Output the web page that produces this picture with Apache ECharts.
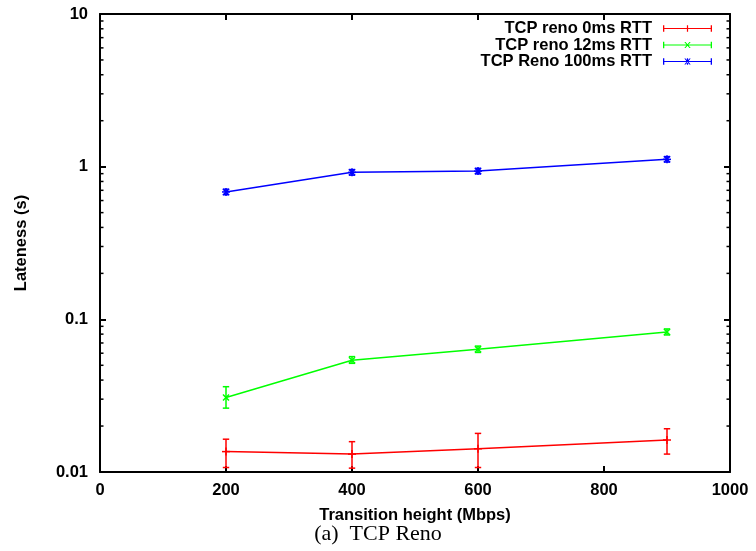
<!DOCTYPE html>
<html>
<head>
<meta charset="utf-8">
<script src="https://cdn.jsdelivr.net/npm/echarts@6/dist/echarts.min.js"></script>
<style>
html,body{margin:0;padding:0;background:#fff;}
#chart{width:756px;height:551px;}
</style>
</head>
<body>
<div id="chart"></div>
<script>
// ---- data ----
const xValues = [200, 400, 600, 900];
const seriesNames = ['TCP reno 0ms RTT', 'TCP reno 12ms RTT', 'TCP Reno 100ms RTT'];
const reno0 = [0.0136, 0.0131, 0.0142, 0.0162];
const reno0Low = [0.0107, 0.0106, 0.0107, 0.0131];
const reno0High = [0.0164, 0.0158, 0.0179, 0.0192];
const reno12 = [0.0308, 0.054, 0.0637, 0.0826];
const reno12Low = [0.0262, 0.0515, 0.0607, 0.0790];
const reno12High = [0.0362, 0.0570, 0.0668, 0.0865];
const reno100 = [0.683, 0.918, 0.935, 1.117];
const reno100Low = [0.655, 0.880, 0.897, 1.072];
const reno100High = [0.712, 0.957, 0.975, 1.164];
const xTicks = [0, 200, 400, 600, 800, 1000];
const yTickLabels = ['0.01', '0.1', '1', '10'];
const yMinorTicks = [0.02,0.03,0.04,0.05,0.06,0.07,0.08,0.09,0.2,0.3,0.4,0.5,0.6,0.7,0.8,0.9,2,3,4,5,6,7,8,9];
const colors = ['#ff0000', '#00ff00', '#0000ff'];
const markers = ['plus', 'cross', 'star'];
const captionText = '(a)  TCP Reno';

const FONT = '"Liberation Sans", Arial, Helvetica, sans-serif';
const FS = 16.5;

function pts(ys) { return xValues.map((x, i) => [x, ys[i]]); }
function errPts(ys, lo, hi) { return xValues.map((x, i) => [x, ys[i], lo[i], hi[i]]); }

function markerShapes(type, p, c) {
  const st = {stroke: c, lineWidth: 1.5};
  const L = (x1, y1, x2, y2) => ({type: 'line', shape: {x1, y1, x2, y2}, style: st});
  const out = [];
  if (type === 'plus' || type === 'star') {
    out.push(L(p[0] - 4, p[1], p[0] + 4, p[1]));
    out.push(L(p[0], p[1] - 4, p[0], p[1] + 4));
  }
  if (type === 'cross' || type === 'star') {
    out.push(L(p[0] - 3, p[1] - 3, p[0] + 3, p[1] + 3));
    out.push(L(p[0] - 3, p[1] + 3, p[0] + 3, p[1] - 3));
  }
  return out;
}

function errRenderer(marker) {
  return function (params, api) {
    const x = api.value(0), y = api.value(1), lo = api.value(2), hi = api.value(3);
    const p = api.coord([x, y]);
    const pl = api.coord([x, lo]);
    const ph = api.coord([x, hi]);
    const c = api.visual('color');
    const st = {stroke: c, lineWidth: 1.5};
    const children = [
      {type: 'line', shape: {x1: pl[0], y1: pl[1], x2: ph[0], y2: ph[1]}, style: st},
      {type: 'line', shape: {x1: pl[0] - 3.2, y1: pl[1], x2: pl[0] + 3.2, y2: pl[1]}, style: st},
      {type: 'line', shape: {x1: ph[0] - 3.2, y1: ph[1], x2: ph[0] + 3.2, y2: ph[1]}, style: st}
    ].concat(markerShapes(marker, p, c));
    return {type: 'group', children};
  };
}

function minorTickRenderer(params, api) {
  const v = api.value(1);
  const pl = api.coord([xTicks[0], v]);
  const pr = api.coord([xTicks[xTicks.length - 1], v]);
  const st = {stroke: '#000', lineWidth: 1.5};
  return {type: 'group', children: [
    {type: 'line', shape: {x1: pl[0], y1: pl[1], x2: pl[0] + 3.5, y2: pl[1]}, style: st},
    {type: 'line', shape: {x1: pr[0] - 3.5, y1: pr[1], x2: pr[0], y2: pr[1]}, style: st}
  ]};
}

// legend icons: horizontal line with end caps and marker in the middle (49 x 6.4 box)
const iconBase = 'M0,2.6 L49,2.6 L49,3.8 L0,3.8 Z M0,0 L1.3,0 L1.3,6.4 L0,6.4 Z M47.7,0 L49,0 L49,6.4 L47.7,6.4 Z ';
const iconPlus = 'M23.9,0 L25.1,0 L25.1,6.4 L23.9,6.4 Z ';
const iconCross = 'M21.3,0.2 L22.6,0.2 L27.7,6.2 L26.4,6.2 Z M27.7,0.2 L26.4,0.2 L21.3,6.2 L22.6,6.2 Z ';
const icons = ['path://' + iconBase + iconPlus, 'path://' + iconBase + iconCross, 'path://' + iconBase + iconPlus + iconCross];

const legendTops = [20, 36.5, 53];
const legends = seriesNames.map((n, i) => ({
  data: [{name: n, icon: icons[i]}],
  orient: 'vertical',
  align: 'right',
  right: 44,
  top: legendTops[i],
  padding: 0,
  itemWidth: 49,
  itemHeight: 6.4,
  selectedMode: false,
  itemStyle: {borderWidth: 0},
  textStyle: {fontFamily: FONT, fontWeight: 'bold', fontSize: FS, color: '#000', padding: [0, 6, 0, 0]}
}));

const lineData = [reno0, reno12, reno100];
const errData = [errPts(reno0, reno0Low, reno0High), errPts(reno12, reno12Low, reno12High), errPts(reno100, reno100Low, reno100High)];

const series = [];
seriesNames.forEach((n, i) => {
  series.push({
    name: n, type: 'line', data: pts(lineData[i]), showSymbol: false, symbol: 'none',
    color: colors[i], lineStyle: {color: colors[i], width: 1.5}, z: 3, animation: false
  });
  series.push({
    name: n, type: 'custom', data: errData[i], renderItem: errRenderer(markers[i]),
    itemStyle: {color: colors[i]}, encode: {x: 0, y: 1}, clip: true, z: 4, animation: false
  });
});
series.push({
  name: 'minor', type: 'custom', data: yMinorTicks.map(v => [xTicks[0], v]),
  renderItem: minorTickRenderer, encode: {x: 0, y: 1}, z: 5, silent: true, animation: false
});

const axisLineStyle = {lineStyle: {color: '#000', width: 2}};
const tickStyle = {show: true, inside: true, length: 6, lineStyle: {color: '#000', width: 2}};
const labelStyle = {fontFamily: FONT, fontWeight: 'bold', fontSize: FS, color: '#000'};

const chart = echarts.init(document.getElementById('chart'), null, {renderer: 'canvas'});
chart.setOption({
  animation: false,
  backgroundColor: '#fff',
  title: {
    text: captionText, left: 'center', top: 523, padding: 0,
    textStyle: {fontFamily: '"Liberation Serif", "Times New Roman", Times, serif', fontWeight: 'normal', fontSize: 22, color: '#000'}
  },
  legend: legends,
  grid: {left: 100, right: 26, top: 14, bottom: 79, containLabel: false},
  xAxis: [{
    type: 'value', min: xTicks[0], max: xTicks[xTicks.length - 1], interval: 200,
    position: 'bottom',
    name: 'Transition height (Mbps)', nameLocation: 'middle', nameGap: 35,
    nameTextStyle: labelStyle,
    axisLine: Object.assign({onZero: false, show: true}, axisLineStyle),
    axisTick: tickStyle,
    axisLabel: Object.assign({margin: 10, showMinLabel: true, showMaxLabel: true, formatter: v => String(v)}, labelStyle),
    splitLine: {show: false}
  }, {
    type: 'value', min: xTicks[0], max: xTicks[xTicks.length - 1], interval: 200,
    position: 'top',
    axisLine: Object.assign({onZero: false, show: true}, axisLineStyle),
    axisTick: tickStyle, axisLabel: {show: false}, splitLine: {show: false}
  }],
  yAxis: [{
    type: 'log', logBase: 10, min: 0.01, max: 10,
    position: 'left',
    name: 'Lateness (s)', nameLocation: 'middle', nameGap: 70, nameRotate: 90,
    nameTextStyle: labelStyle,
    axisLine: Object.assign({show: true, onZero: false}, axisLineStyle),
    axisTick: tickStyle,
    axisLabel: Object.assign({
      margin: 12,
      formatter: function (v) {
        const l = yTickLabels.find(s => Math.abs(parseFloat(s) - v) < 1e-9 * Math.max(1, v));
        return l !== undefined ? l : '';
      }
    }, labelStyle),
    splitLine: {show: false}
  }, {
    // mirror of the log axis on the right: exponents -2..1 (one tick per decade)
    type: 'value', min: -2, max: 1, interval: 1,
    position: 'right',
    axisLine: Object.assign({show: true, onZero: false}, axisLineStyle),
    axisTick: tickStyle, axisLabel: {show: false}, splitLine: {show: false}
  }],
  series: series
});
</script>
</body>
</html>
